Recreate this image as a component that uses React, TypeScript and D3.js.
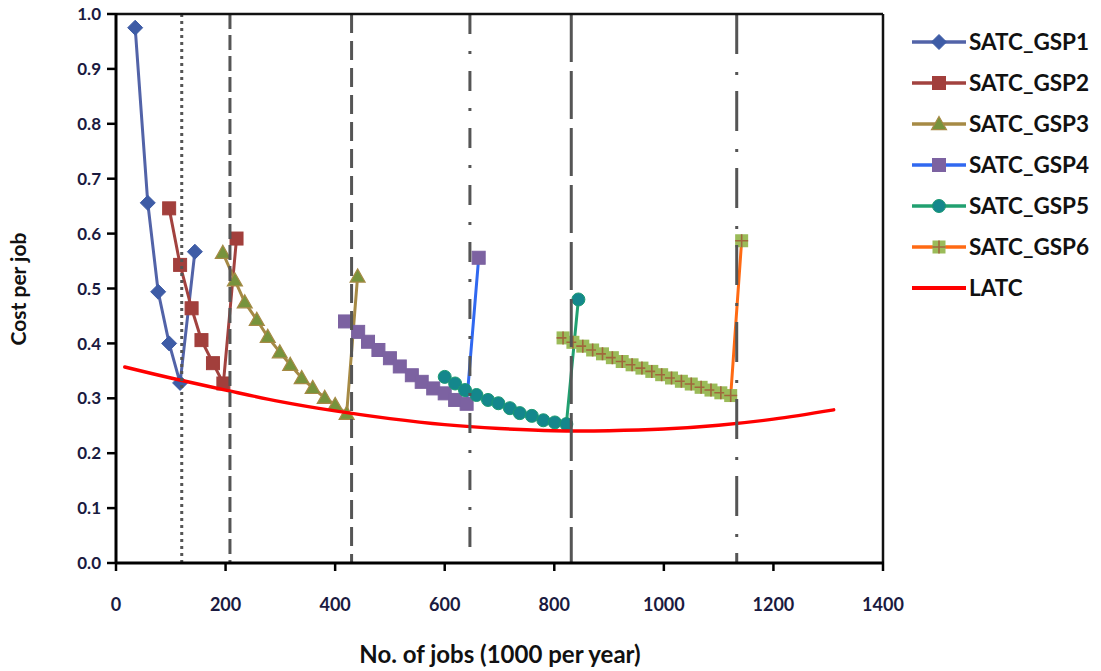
import React, { useEffect } from 'react';
import * as d3 from 'd3';

const xTicks = [0, 200, 400, 600, 800, 1000, 1200, 1400];
const yTicks = [0, 0.1, 0.2, 0.3, 0.4, 0.5, 0.6, 0.7, 0.8, 0.9, 1.0];

const gsp1X = [35, 58, 77, 97, 117, 144];
const gsp1Y = [0.975, 0.656, 0.494, 0.4, 0.328, 0.567];

const gsp2X = [97, 117, 138, 156, 177, 196, 220];
const gsp2Y = [0.646, 0.543, 0.464, 0.406, 0.364, 0.327, 0.591];

const gsp3X = [195, 217, 235, 257, 277, 299, 318, 339, 359, 381, 400, 421, 441];
const gsp3Y = [0.565, 0.515, 0.475, 0.443, 0.412, 0.384, 0.361, 0.337, 0.319, 0.301, 0.288, 0.272, 0.522];

const gsp4X = [418, 442, 460, 479, 500, 518, 540, 558, 579, 600, 619, 640, 662];
const gsp4Y = [0.44, 0.421, 0.403, 0.388, 0.373, 0.358, 0.342, 0.33, 0.318, 0.309, 0.297, 0.29, 0.556];

const gsp5X = [600, 619, 637, 658, 679, 698, 719, 737, 759, 780, 801, 822, 844];
const gsp5Y = [0.339, 0.327, 0.315, 0.306, 0.297, 0.291, 0.282, 0.273, 0.268, 0.26, 0.256, 0.253, 0.48];

const gsp6X = [816, 834, 852, 870, 888, 906, 924, 942, 960, 978, 996, 1014, 1032, 1050, 1068, 1086, 1104, 1122, 1142];
const gsp6Y = [0.41, 0.402, 0.395, 0.388, 0.381, 0.374, 0.367, 0.361, 0.355, 0.349, 0.343, 0.337, 0.331, 0.326, 0.32, 0.315, 0.31, 0.305, 0.587];

const latcX = [16, 100, 200, 300, 400, 500, 600, 700, 800, 900, 1000, 1100, 1200, 1310];
const latcY = [0.357, 0.337, 0.315, 0.294, 0.277, 0.263, 0.252, 0.245, 0.241, 0.241, 0.244, 0.251, 0.262, 0.279];

const vLineX = [120, 208, 430, 646, 831, 1133];
const vLineDash = ['3,4', '15,6', '19,8', '20,17,3,17', '48,9', '40,18,3,16'];

const seriesNames = ['SATC_GSP1', 'SATC_GSP2', 'SATC_GSP3', 'SATC_GSP4', 'SATC_GSP5', 'SATC_GSP6'];
const lineColors = ['#5263A8', '#A2423F', '#A68A45', '#3068F0', '#21A070', '#FF6A13'];
const markerColors = ['#3E5CA6', '#A23F3C', '#77933C', '#7C62A1', '#14878C', '#9BBB59'];
const markerTypes = ['diamond', 'square', 'triangle', 'square', 'circle', 'squareCross'];

const seriesX = [gsp1X, gsp2X, gsp3X, gsp4X, gsp5X, gsp6X];
const seriesY = [gsp1Y, gsp2Y, gsp3Y, gsp4Y, gsp5Y, gsp6Y];

const W = 1101;
const H = 671;

function Marker({ type, x, y, color }: { type: string; x: number; y: number; color: string }) {
  if (type === 'diamond') {
    const s = 7.5;
    return <path d={`M${x},${y - s}L${x + s},${y}L${x},${y + s}L${x - s},${y}Z`} fill={color} stroke={color} strokeWidth={1} />;
  }
  if (type === 'square') {
    const s = 6.5;
    return <rect x={x - s} y={y - s} width={2 * s} height={2 * s} fill={color} stroke={color} strokeWidth={1} />;
  }
  if (type === 'triangle') {
    const s = 7.5;
    return <path d={`M${x},${y - s}L${x + s},${y + s * 0.75}L${x - s},${y + s * 0.75}Z`} fill={color} stroke="#A68A45" strokeWidth={1.2} />;
  }
  if (type === 'circle') {
    return <circle cx={x} cy={y} r={6.5} fill={color} stroke="#1A9A72" strokeWidth={1} />;
  }
  const s = 6.5;
  return (
    <g>
      <rect x={x - s} y={y - s} width={2 * s} height={2 * s} fill={color} />
      <path d={`M${x - s},${y}L${x + s},${y}M${x},${y - s}L${x},${y + s}`} stroke="#A0673C" strokeWidth={1.6} />
    </g>
  );
}

export default function App() {
  useEffect(() => {
    document.body.style.margin = '0';
  }, []);

  const x = d3.scaleLinear().domain([0, 1400]).range([116, 883]);
  const y = d3.scaleLinear().domain([0, 1]).range([563, 14]);

  const line = d3
    .line<[number, number]>()
    .x((d) => x(d[0]))
    .y((d) => y(d[1]));
  const curve = d3
    .line<[number, number]>()
    .x((d) => x(d[0]))
    .y((d) => y(d[1]))
    .curve(d3.curveCatmullRom);

  const latcPts: [number, number][] = latcX.map((v, i) => [v, latcY[i]]);
  const font = 'Lato, "Open Sans", sans-serif';

  return (
    <svg width={W} height={H} style={{ display: 'block', background: '#fff' }}>
      {seriesX.map((xs, si) => {
        const pts: [number, number][] = xs.map((v, i) => [v, seriesY[si][i]]);
        return (
          <g key={si}>
            <path d={line(pts) || ''} fill="none" stroke={lineColors[si]} strokeWidth={3} />
            {pts.map((p, i) => (
              <Marker key={i} type={markerTypes[si]} x={x(p[0])} y={y(p[1])} color={markerColors[si]} />
            ))}
          </g>
        );
      })}
      <path d={curve(latcPts) || ''} fill="none" stroke="#FF0000" strokeWidth={3.4} strokeLinecap="round" />
      {vLineX.map((v, i) => (
        <line
          key={i}
          x1={x(v)}
          x2={x(v)}
          y1={y(1)}
          y2={y(0)}
          stroke="#555"
          strokeWidth={3}
          strokeDasharray={vLineDash[i]}
        />
      ))}
      <line x1={x(0)} x2={x(1400)} y1={y(1)} y2={y(1)} stroke="#111" strokeWidth={2.5} />
      <line x1={x(1400)} x2={x(1400)} y1={y(1)} y2={y(0)} stroke="#111" strokeWidth={2.5} />
      <line x1={x(0)} x2={x(0)} y1={y(1) - 1} y2={y(0) + 1} stroke="#000" strokeWidth={3} />
      <line x1={x(0) - 1} x2={x(1400) + 1} y1={y(0)} y2={y(0)} stroke="#000" strokeWidth={3} />
      {yTicks.map((t, i) => (
        <g key={i}>
          <line x1={x(0) - 9} x2={x(0)} y1={y(t)} y2={y(t)} stroke="#000" strokeWidth={2.5} />
          <text x={101} y={y(t)} dy="0.36em" textAnchor="end" fontFamily={font} fontWeight="bold" fontSize={17} fill="#1a1a40">
            {t.toFixed(1)}
          </text>
        </g>
      ))}
      {xTicks.map((t, i) => (
        <g key={i}>
          <line x1={x(t)} x2={x(t)} y1={y(0)} y2={y(0) + 8} stroke="#000" strokeWidth={2.5} />
          <text x={x(t)} y={611} textAnchor="middle" fontFamily={font} fontWeight="bold" fontSize={18} fill="#1a1a40">
            {t}
          </text>
        </g>
      ))}
      <text x={500} y={663} textAnchor="middle" fontFamily={font} fontWeight="bold" fontSize={24} fill="#111">
        No. of jobs (1000 per year)
      </text>
      <text
        transform={`translate(26,${289}) rotate(-90)`}
        textAnchor="middle"
        fontFamily={font}
        fontWeight="bold"
        fontSize={21}
        fill="#111"
      >
        Cost per job
      </text>
      {seriesNames.map((n, i) => {
        const ly = 42 + i * 41;
        return (
          <g key={n}>
            <line x1={912} x2={966} y1={ly} y2={ly} stroke={lineColors[i]} strokeWidth={3.5} />
            <Marker type={markerTypes[i]} x={939} y={ly} color={markerColors[i]} />
            <text x={969} y={ly} dy="0.36em" fontFamily={font} fontWeight="bold" fontSize={22.5} fill="#111">
              {n}
            </text>
          </g>
        );
      })}
      <g>
        <line x1={912} x2={966} y1={42 + 6 * 41} y2={42 + 6 * 41} stroke="#FF0000" strokeWidth={4} />
        <text x={969} y={42 + 6 * 41} dy="0.36em" fontFamily={font} fontWeight="bold" fontSize={22.5} fill="#111">
          LATC
        </text>
      </g>
    </svg>
  );
}
